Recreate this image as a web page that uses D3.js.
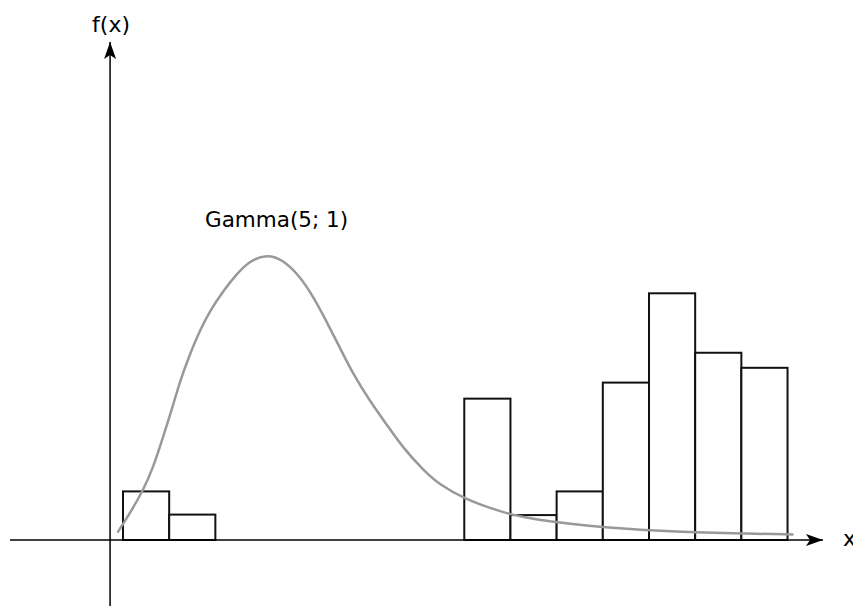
<!DOCTYPE html>
<html>
<head>
<meta charset="utf-8">
<script src="https://cdn.jsdelivr.net/npm/d3@7"></script>
<style>
  html, body { margin: 0; padding: 0; background: #fff; }
  svg { display: block; }
  text { font-family: "DejaVu Sans", sans-serif; }
</style>
</head>
<body>
<svg id="chart" width="853" height="606"></svg>
<script>
// ---- data ----
const leftBinStarts = [0, 1];
const leftBinHeights = [1.97, 1.03];
const rightBinStarts = [7.39, 8.39, 9.39, 10.39, 11.39, 12.39, 13.39];
const rightBinHeights = [5.73, 1.01, 1.97, 6.38, 10.0, 7.59, 6.98];
const binWidth = 1;

const curveX = [-0.12, 0.15, 0.44, 0.66, 0.87, 1.06, 1.23, 1.45, 1.67, 1.88, 2.17, 2.46, 2.75, 3.12, 3.45, 3.83, 4.12, 4.41, 4.70, 4.99, 5.35, 5.71, 6.07, 6.50, 6.86, 7.41, 7.95, 8.38, 8.89, 9.39, 10.11, 10.40, 11.41, 12.39, 13.40, 14.52];
const curveY = [0.30, 1.08, 2.03, 2.97, 4.19, 5.30, 6.42, 7.55, 8.51, 9.28, 10.10, 10.78, 11.33, 11.58, 11.38, 10.70, 9.86, 8.85, 7.78, 6.70, 5.62, 4.68, 3.72, 2.84, 2.23, 1.66, 1.29, 1.04, 0.85, 0.72, 0.57, 0.52, 0.38, 0.31, 0.27, 0.22];

const curveLabel = "Gamma(5; 1)";
const xAxisLabel = "x";
const yAxisLabel = "f(x)";

// ---- scales ----
const svg = d3.select("#chart");
const x = d3.scaleLinear().domain([0, 14.4]).range([123, 788]);
const y = d3.scaleLinear().domain([0, 10]).range([540, 293.3]);

const x0 = x(-0.28);   // y-axis position
const y0 = y(0);       // x-axis position

// ---- arrow markers ----
const defs = svg.append("defs");
defs.append("marker")
  .attr("id", "arrow")
  .attr("viewBox", "0 0 17 12")
  .attr("refX", 17).attr("refY", 6)
  .attr("markerWidth", 17).attr("markerHeight", 12)
  .attr("markerUnits", "userSpaceOnUse")
  .attr("orient", "auto")
  .append("path")
  .attr("d", "M0,0 L17,6 L0,12 L4,6 Z")
  .attr("fill", "#000");

// ---- bars ----
const bars = leftBinStarts.map((s, i) => ({ s, h: leftBinHeights[i] }))
  .concat(rightBinStarts.map((s, i) => ({ s, h: rightBinHeights[i] })));

svg.append("g").selectAll("rect").data(bars).enter().append("rect")
  .attr("x", d => x(d.s))
  .attr("y", d => y(d.h))
  .attr("width", d => x(d.s + binWidth) - x(d.s))
  .attr("height", d => y(0) - y(d.h))
  .attr("fill", "#fff")
  .attr("stroke", "#111")
  .attr("stroke-width", 2);

// ---- curve ----
const pts = curveX.map((v, i) => [v, curveY[i]]);
svg.append("path")
  .datum(pts)
  .attr("d", d3.line().x(d => x(d[0])).y(d => y(d[1])).curve(d3.curveBasis))
  .attr("fill", "none")
  .attr("stroke", "#999")
  .attr("stroke-width", 2.5);

// ---- axes ----
svg.append("line")
  .attr("x1", 10).attr("y1", y0)
  .attr("x2", 823).attr("y2", y0)
  .attr("stroke", "#000").attr("stroke-width", 1.5)
  .attr("marker-end", "url(#arrow)");

svg.append("line")
  .attr("x1", x0).attr("y1", 606)
  .attr("x2", x0).attr("y2", 42)
  .attr("stroke", "#000").attr("stroke-width", 1.5)
  .attr("marker-end", "url(#arrow)");

// ---- labels ----
svg.append("text")
  .attr("x", 843).attr("y", 546)
  .attr("font-size", 22)
  .attr("fill", "#000")
  .text(xAxisLabel);

svg.append("text")
  .attr("x", x0 + 1).attr("y", 32)
  .attr("text-anchor", "middle")
  .attr("font-size", 22)
  .attr("fill", "#000")
  .text(yAxisLabel);

svg.append("text")
  .attr("x", 205).attr("y", 227)
  .attr("font-size", 21.5)
  .attr("fill", "#000")
  .text(curveLabel);
</script>
</body>
</html>
